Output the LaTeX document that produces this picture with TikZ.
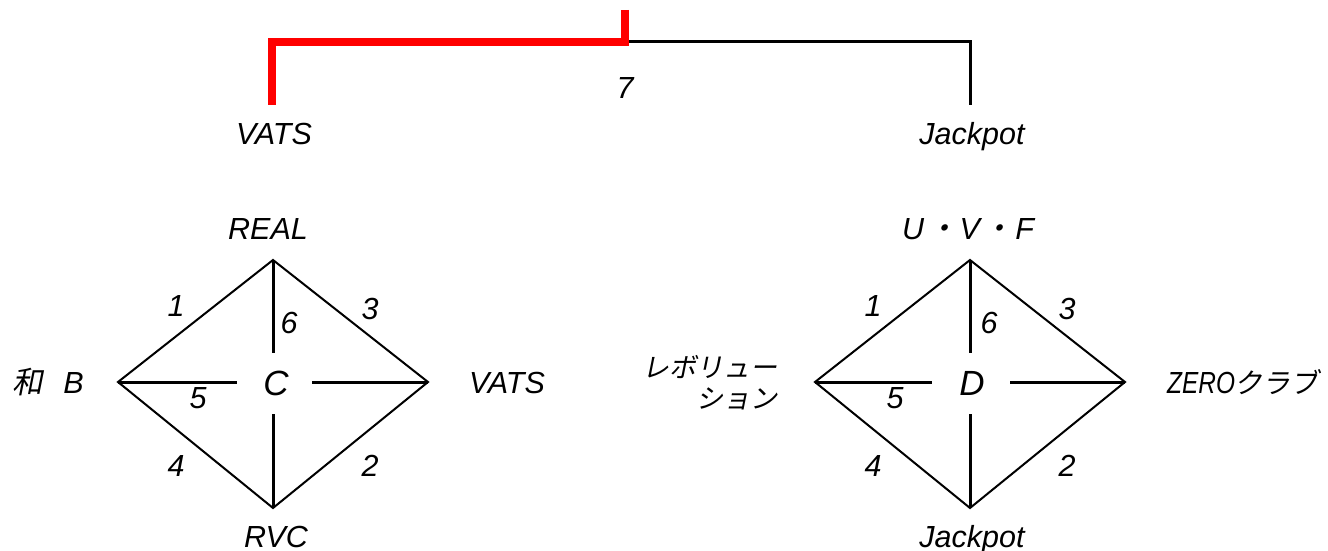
\documentclass[tikz,border=0pt]{standalone}
\usepackage{fontspec}
\setmainfont{Liberation Sans}
\newfontfamily\jp{Noto Sans CJK JP}[FakeSlant=0.2]
\begin{document}
\begin{tikzpicture}[x=1pt,y=-1pt,
  lab/.style={font=\fontsize{30.5}{35}\selectfont\itshape, inner sep=0pt, anchor=base},
  big/.style={font=\fontsize{35}{40}\selectfont\itshape, inner sep=0pt, anchor=base},
  jlab/.style={font=\fontsize{27}{32}\selectfont\jp, inner sep=0pt},
  edgeline/.style={line width=2pt, line join=miter},
  spoke/.style={line width=3pt},
  redline/.style={line width=8pt, red, line join=miter},
  blackline/.style={line width=3pt, line join=miter},
]
\useasboundingbox (0,0) rectangle (1328,551);

% ---- top bracket ----
\coordinate (rt) at (625,10);
\coordinate (rm) at (625,42);
\coordinate (lc) at (272,42);
\coordinate (lb) at (272,105);
\coordinate (rc) at (970,42);
\coordinate (rb) at (970,105);
\draw[blackline] (rm) -- (rc) -- (rb);
\draw[redline] (rt) -- (rm) -- (lc) -- (lb);
\node[lab] (seven) at (625,98) {7};
\node[lab] (tv) at (274,144) {VATS};
\node[lab] (tj) at (972,144) {Jackpot};

% ---- left diamond ----
\coordinate (Lt) at (273,260);
\coordinate (Ll) at (118,382);
\coordinate (Lr) at (428,382);
\coordinate (Lb) at (273,508);
\coordinate (Lt2) at (273,353);
\coordinate (Lb2) at (273,414);
\coordinate (Ll2) at (237,382);
\coordinate (Lr2) at (312,382);
\draw[edgeline] (Lt) -- (Lr) -- (Lb) -- (Ll) -- cycle;
\draw[spoke] (Lt) -- (Lt2);
\draw[spoke] (Lb2) -- (Lb);
\draw[spoke] (Ll) -- (Ll2);
\draw[spoke] (Lr2) -- (Lr);
\node[big] (C) at (276,395) {C};
\node[lab] (LREAL) at (268,239) {REAL};
\node[lab] (LRVC) at (276,547) {RVC};
\node[lab] (LVATS) at (507,393) {VATS};
\node[lab, anchor=base west] (LWB) at (12,393) {{\jp 和}\hspace{0.68em}B};
\node[lab] (L1) at (176,316) {1};
\node[lab] (L3) at (370,319) {3};
\node[lab] (L6) at (289,333) {6};
\node[lab] (L5) at (198,408) {5};
\node[lab] (L4) at (176,476) {4};
\node[lab] (L2) at (370,476) {2};

% ---- right diamond ----
\coordinate (Rt) at (970,260);
\coordinate (Rl) at (815,382);
\coordinate (Rr) at (1125,382);
\coordinate (Rb) at (970,508);
\coordinate (Rt2) at (970,353);
\coordinate (Rb2) at (970,414);
\coordinate (Rl2) at (932,382);
\coordinate (Rr2) at (1010,382);
\draw[edgeline] (Rt) -- (Rr) -- (Rb) -- (Rl) -- cycle;
\draw[spoke] (Rt) -- (Rt2);
\draw[spoke] (Rb2) -- (Rb);
\draw[spoke] (Rl) -- (Rl2);
\draw[spoke] (Rr2) -- (Rr);
\node[big] (D) at (972,395) {D};
\node[lab] (RUVF) at (968,239) {U\hspace{3pt}{\jp ・}\hspace{2pt}V\hspace{3pt}{\jp ・}\hspace{2pt}F};
\node[lab] (RJ) at (972,547) {Jackpot};
\node[lab, anchor=base west] (RZ) at (1167,393) {\scalebox{0.8}[1]{ZERO}{\fontsize{28}{32}\selectfont\jp クラブ}};
\node[jlab, anchor=base east] (RRev1) at (778,377) {レボリュー};
\node[jlab, anchor=base east] (RRev2) at (778,408) {ション};
\node[lab] (R1) at (873,316) {1};
\node[lab] (R3) at (1067,319) {3};
\node[lab] (R6) at (989,333) {6};
\node[lab] (R5) at (895,408) {5};
\node[lab] (R4) at (873,476) {4};
\node[lab] (R2) at (1067,476) {2};
\end{tikzpicture}
\end{document}
